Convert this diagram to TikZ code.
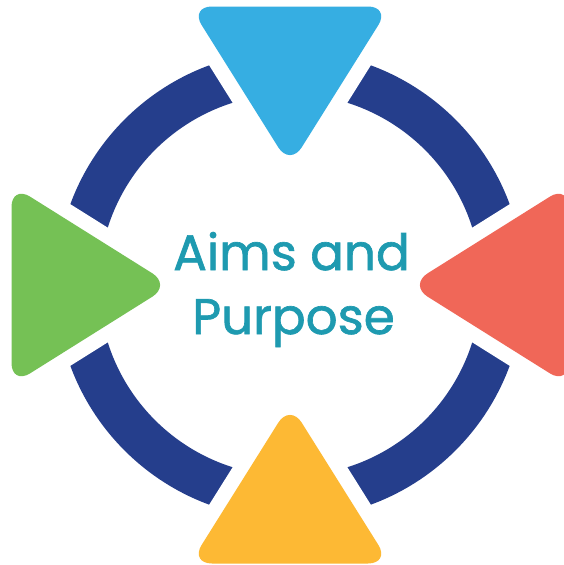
\documentclass[tikz,border=0pt]{standalone}
\usepackage{fontspec}
\setmainfont{Poppins}[FakeBold=1.3]
\definecolor{ringblue}{HTML}{253E8C}
\definecolor{triblue}{HTML}{36AEE2}
\definecolor{trigreen}{HTML}{75C155}
\definecolor{trired}{HTML}{F06758}
\definecolor{triyellow}{HTML}{FDB934}
\definecolor{textteal}{HTML}{1E9AB0}
\tikzset{
  ringstyle/.style={draw=ringblue, line width=43pt},
  gapstyle/.style={draw=white, line width=30pt, line join=round, rounded corners=22pt},
  tristyle/.style={rounded corners=22pt},
  label/.style={text=textteal, font=\fontsize{50}{60}\selectfont, inner sep=0pt, anchor=base}
}
\begin{document}
\begin{tikzpicture}[x=1pt,y=-1pt]
\useasboundingbox (0,0) rectangle (564,565);
\fill[white] (0,0) rectangle (564,565);
\coordinate (c) at (290,285);
\draw[ringstyle] (c) circle[radius=212.5];
% top (blue)
\path[gapstyle] (190,6.5) -- (390,6.5) -- (290,166) -- cycle;
\fill[tristyle, triblue] (190,6.5) -- (390,6.5) -- (290,166) -- cycle;
% left (green)
\path[gapstyle] (11.5,185) -- (171,285) -- (11.5,385) -- cycle;
\fill[tristyle, trigreen] (11.5,185) -- (171,285) -- (11.5,385) -- cycle;
% right (red)
\path[gapstyle] (568.5,185) -- (409,285) -- (568.5,385) -- cycle;
\fill[tristyle, trired] (568.5,185) -- (409,285) -- (568.5,385) -- cycle;
% bottom (yellow)
\path[gapstyle] (190,563.5) -- (290,404) -- (390,563.5) -- cycle;
\fill[tristyle, triyellow] (190,563.5) -- (290,404) -- (390,563.5) -- cycle;
\node[label] (t1) at (291.5,270) {Aims and};
\node[label] (t2) at (293.5,334) {Purpose};
\end{tikzpicture}
\end{document}
